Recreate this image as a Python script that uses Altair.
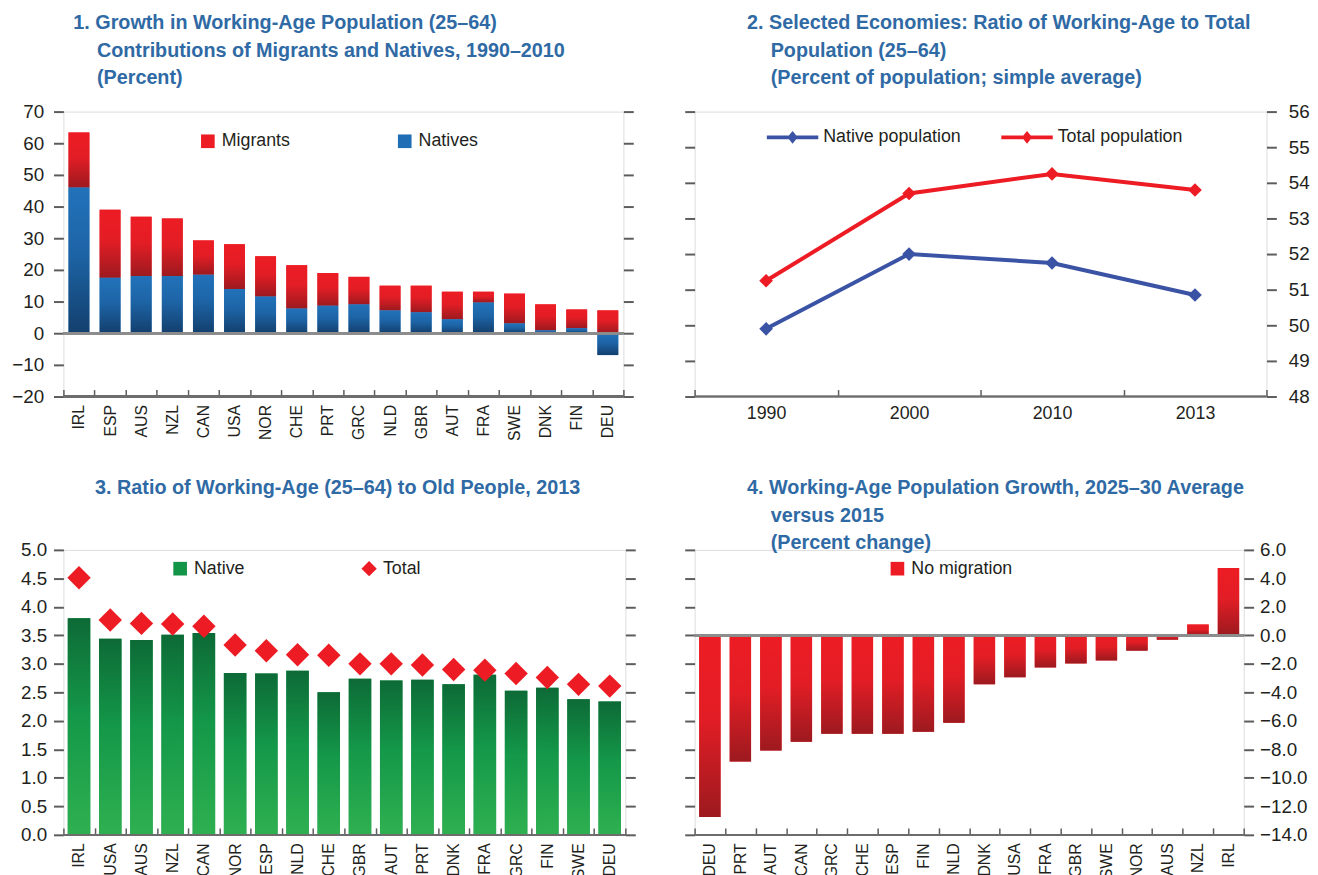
import altair as alt
import pandas as pd

FONT = "'Liberation Sans', Arial, sans-serif"
TITLE_C = "#2F6AA5"
LABEL_C = "#231F20"
TICK_C = "#5c5c5c"
RED = "#ED1C24"
BLUE = "#1F6DB5"
GREEN = "#139548"
LBLUE = "#3A53A4"
IND = "\u200b\u2007\u2007\u200a"

# ---------------- data ----------------
p1_countries = ["IRL", "ESP", "AUS", "NZL", "CAN", "USA", "NOR", "CHE", "PRT",
                "GRC", "NLD", "GBR", "AUT", "FRA", "SWE", "DNK", "FIN", "DEU"]
p1_natives = [46.0, 17.5, 18.1, 18.1, 18.5, 14.0, 11.6, 7.8, 8.7,
              9.1, 7.2, 6.6, 4.4, 9.7, 3.1, 0.9, 1.6, -6.9]
p1_migrants = [17.4, 21.5, 18.7, 18.1, 10.8, 14.1, 12.7, 13.7, 10.3,
               8.7, 7.8, 8.4, 8.7, 3.4, 9.4, 8.2, 5.9, 7.2]

p2_years = ["1990", "2000", "2010", "2013"]
p2_native = [49.9, 52.0, 51.75, 50.85]
p2_total = [51.25, 53.7, 54.25, 53.8]

p3_countries = ["IRL", "USA", "AUS", "NZL", "CAN", "NOR", "ESP", "NLD", "CHE",
                "GBR", "AUT", "PRT", "DNK", "FRA", "GRC", "FIN", "SWE", "DEU"]
p3_native = [3.80, 3.44, 3.42, 3.51, 3.54, 2.84, 2.83, 2.88, 2.50,
             2.74, 2.71, 2.72, 2.64, 2.81, 2.53, 2.58, 2.38, 2.34]
p3_total = [4.51, 3.77, 3.71, 3.70, 3.66, 3.33, 3.23, 3.16, 3.15,
            3.00, 3.00, 2.98, 2.90, 2.89, 2.83, 2.76, 2.64, 2.61]

p4_countries = ["DEU", "PRT", "AUT", "CAN", "GRC", "CHE", "ESP", "FIN", "NLD",
                "DNK", "USA", "FRA", "GBR", "SWE", "NOR", "AUS", "NZL", "IRL"]
p4_values = [-12.75, -8.85, -8.09, -7.46, -6.91, -6.91, -6.91, -6.77, -6.14,
             -3.43, -2.94, -2.25, -1.97, -1.76, -1.07, -0.30, 0.76, 4.73]


# ---------------- helpers ----------------
def grad(stops):
    return alt.LinearGradient(
        gradient="linear", x1=0, x2=0, y1=0, y2=1,
        stops=[alt.GradientStop(color=c, offset=o) for o, c in stops])


RED_GRAD = grad([(0, "#ED1C24"), (0.45, "#E31D25"), (1, "#9C1A1F")])
BLUE_GRAD = grad([(0, "#2272BA"), (0.45, "#1D64A6"), (1, "#133F6D")])
GREEN_GRAD = grad([(0, "#0D6A36"), (0.45, "#149849"), (1, "#2FB050")])


def yaxis(orient, values, labels, fmt=None, pad=10):
    kw = dict(orient=orient, values=values, labels=labels, domain=False, grid=False,
              ticks=True, tickSize=10, tickWidth=2, tickColor=TICK_C,
              labelPadding=pad, labelFontSize=19, labelFont=FONT,
              labelColor=LABEL_C, title=None, labelOverlap=False)
    if fmt:
        kw["format"] = fmt
    return alt.Axis(**kw)


def xaxis(angle=270, fontsize=16):
    kw = dict(orient="bottom", domain=False, ticks=True, tickBand="extent",
              tickSize=7, tickWidth=1.5, tickColor=TICK_C, offset=-7,
              labelAngle=angle, labelPadding=8, labelFontSize=fontsize,
              labelFont=FONT, labelColor=LABEL_C, title=None, labelOverlap=False)
    if angle:
        kw.update(labelAlign="right", labelBaseline="middle")
    else:
        kw.update(labelAlign="center", labelBaseline="top")
    return alt.Axis(**kw)


def legend(x, y, stype, ssize, colpad=20):
    return alt.Legend(orient="none", legendX=x, legendY=y, direction="horizontal",
                      title=None, symbolType=stype, symbolSize=ssize,
                      symbolStrokeWidth=0, symbolOpacity=1,
                      labelFont=FONT, labelFontSize=18, labelColor=LABEL_C,
                      columnPadding=colpad, labelOffset=5, padding=0)


def title(lines, dx, offset):
    return alt.TitleParams(text=lines, anchor="start", frame="group", dx=dx,
                           offset=offset, fontSize=20, font=FONT,
                           fontWeight="bold", color=TITLE_C, lineHeight=27.5)


def rule(v, scale, axis, color, w):
    return alt.Chart().mark_rule(color=color, strokeWidth=w).encode(
        y=alt.YDatum(v, scale=scale, axis=axis))


# ---------------- panel 1 ----------------
df1 = pd.DataFrame({"country": p1_countries, "Natives": p1_natives,
                    "Migrants": p1_migrants})
X1 = alt.X("country:N", sort=p1_countries,
           scale=alt.Scale(paddingInner=0, paddingOuter=0), axis=xaxis())
Y1s = alt.Scale(domain=[-20, 70], nice=False, zero=False)
v1 = list(range(-20, 71, 10))
ax1 = yaxis("left", v1, True)
Y1 = alt.Y("lo:Q", scale=Y1s, axis=ax1)
long1 = alt.Chart(df1).transform_fold(
    ["Migrants", "Natives"], as_=["series", "value"]
).transform_calculate(
    lo="datum.series === 'Natives' ? 0 : max(datum.Natives, 0)",
    hi="datum.series === 'Natives' ? datum.Natives : max(datum.Natives, 0) + datum.value",
)
bw1 = alt.RelativeBandSize(0.67)
solid1 = long1.mark_bar(width=bw1).encode(
    x=X1, y=Y1, y2="hi:Q",
    color=alt.Color("series:N",
                    scale=alt.Scale(domain=["Migrants", "Natives"], range=[RED, BLUE]),
                    legend=legend(137, 21, "square", 190, colpad=106)))
mig1 = long1.transform_filter("datum.series === 'Migrants'").mark_bar(
    width=bw1, color=RED_GRAD).encode(x=X1, y=Y1, y2="hi:Q")
nat1 = long1.transform_filter("datum.series === 'Natives'").mark_bar(
    width=bw1, color=BLUE_GRAD).encode(x=X1, y=Y1, y2="hi:Q")
inner1 = alt.layer(solid1, mig1, nat1,
                   rule(0, Y1s, ax1, "#8c8c8c", 2),
                   rule(-20, Y1s, ax1, "#6d6d6d", 1.5), data=df1)
right1 = long1.mark_bar(opacity=0, width=bw1).encode(
    x=X1, y=alt.Y("lo:Q", scale=Y1s, axis=yaxis("right", v1, False)), y2="hi:Q")
p1 = alt.layer(inner1, right1).resolve_scale(y="independent").properties(
    width=566, height=288,
    title=title(["1. Growth in Working-Age Population (25–64)",
                 IND + "Contributions of Migrants and Natives, 1990–2010",
                 IND + "(Percent)"], 10, 15))

# ---------------- panel 2 ----------------
df2 = pd.DataFrame({"year": p2_years, "Native population": p2_native,
                    "Total population": p2_total})
long2 = alt.Chart(df2).transform_fold(
    ["Native population", "Total population"], as_=["series", "value"])
X2 = alt.X("year:N", sort=p2_years, bandPosition=0.5,
           scale=alt.Scale(type="band", paddingInner=0, paddingOuter=0),
           axis=xaxis(angle=0, fontsize=18))
Y2s = alt.Scale(domain=[48, 56], nice=False, zero=False)
v2 = list(range(48, 57))
ax2 = yaxis("left", v2, False)
Y2 = alt.Y("value:Q", scale=Y2s, axis=ax2)
cs2 = alt.Scale(domain=["Native population", "Total population"], range=[LBLUE, RED])
LINE_DIAMOND = "M-1,-0.075H1V0.075H-1ZM0,-0.25L0.2,0L0,0.25L-0.2,0Z"
line_nat = long2.transform_filter("datum.series === 'Native population'").mark_line(
    strokeWidth=4, color=LBLUE).encode(x=X2, y=Y2)
line_tot = long2.transform_filter("datum.series === 'Total population'").mark_line(
    strokeWidth=4, color=RED).encode(x=X2, y=Y2)
pts2 = long2.mark_point(filled=True, shape="diamond", size=190, opacity=1).encode(
    x=X2, y=Y2,
    color=alt.Color("series:N", scale=cs2,
                    legend=legend(73, 0, LINE_DIAMOND, 2704, colpad=40)))
inner2 = alt.layer(line_nat, line_tot, pts2, rule(48, Y2s, ax2, "#6d6d6d", 1.5), data=df2)
right2 = long2.mark_point(opacity=0).encode(
    x=X2, y=alt.Y("value:Q", scale=Y2s, axis=yaxis("right", v2, True, pad=12)))
p2 = alt.layer(inner2, right2).resolve_scale(y="independent").properties(
    width=578, height=288,
    title=title(["2. Selected Economies: Ratio of Working-Age to Total",
                 IND + "Population (25–64)",
                 IND + "(Percent of population; simple average)"], 53, 15))

# ---------------- panel 3 ----------------
df3 = pd.DataFrame({"country": p3_countries, "native": p3_native, "total": p3_total})
X3 = alt.X("country:N", sort=p3_countries,
           scale=alt.Scale(paddingInner=0, paddingOuter=0), axis=xaxis())
Y3s = alt.Scale(domain=[0, 5], nice=False, zero=False)
v3 = [i / 2 for i in range(11)]
ax3 = yaxis("left", v3, True, ".1f", 7)
bw3 = alt.RelativeBandSize(0.72)
base3 = alt.Chart(df3).transform_calculate(s1="'Native'", s2="'Total'")
solid3 = base3.mark_bar(width=bw3).encode(
    x=X3, y=alt.Y("native:Q", scale=Y3s, axis=ax3),
    color=alt.Color("s1:N", scale=alt.Scale(domain=["Native"], range=[GREEN]),
                    legend=legend(109, 10, "square", 190)))
grad3 = base3.mark_bar(width=bw3, color=GREEN_GRAD).encode(
    x=X3, y=alt.Y("native:Q", scale=Y3s, axis=ax3))
pts3 = base3.mark_point(filled=True, shape="diamond", size=560, opacity=1).encode(
    x=X3, y=alt.Y("total:Q", scale=Y3s, axis=ax3),
    color=alt.Color("s2:N", scale=alt.Scale(domain=["Total"], range=[RED]),
                    legend=legend(300, 10, "diamond", 240)))
inner3 = alt.layer(solid3, grad3, rule(0, Y3s, ax3, "#6d6d6d", 1.5), pts3,
                   data=df3).resolve_scale(color="independent")
right3 = alt.Chart(df3).mark_bar(opacity=0, width=bw3).encode(
    x=X3, y=alt.Y("native:Q", scale=Y3s, axis=yaxis("right", v3, False)))
p3 = alt.layer(inner3, right3).resolve_scale(y="independent").properties(
    width=568, height=288,
    title=title(["3. Ratio of Working-Age (25–64) to Old People, 2013"], 32, 43))

# ---------------- panel 4 ----------------
df4 = pd.DataFrame({"country": p4_countries, "value": p4_values})
X4 = alt.X("country:N", sort=p4_countries,
           scale=alt.Scale(paddingInner=0, paddingOuter=0), axis=xaxis())
Y4s = alt.Scale(domain=[-14, 6], nice=False, zero=False)
v4 = list(range(-14, 7, 2))
ax4 = yaxis("left", v4, False)
Y4 = alt.Y("value:Q", scale=Y4s, axis=ax4)
bw4 = alt.RelativeBandSize(0.7)
base4 = alt.Chart(df4).transform_calculate(s="'No migration'")
solid4 = base4.mark_bar(width=bw4).encode(
    x=X4, y=Y4,
    color=alt.Color("s:N", scale=alt.Scale(domain=["No migration"], range=[RED]),
                    legend=legend(196, 10, "square", 190)))
grad4 = base4.mark_bar(width=bw4, color=RED_GRAD).encode(x=X4, y=Y4)
inner4 = alt.layer(solid4, grad4,
                   rule(0, Y4s, ax4, "#8c8c8c", 2),
                   rule(-14, Y4s, ax4, "#6d6d6d", 1.5), data=df4)
right4 = alt.Chart(df4).mark_bar(opacity=0, width=bw4).encode(
    x=X4, y=alt.Y("value:Q", scale=Y4s, axis=yaxis("right", v4, True, ".1f", 6)))
p4 = alt.layer(inner4, right4).resolve_scale(y="independent").properties(
    width=555, height=288,
    title=title(["4. Working-Age Population Growth, 2025–30 Average",
                 IND + "versus 2015", IND + "(Percent change)"], 53, -12))

IND_RES = dict(color="independent")
top = alt.hconcat(p1, p2, spacing=48).resolve_scale(**IND_RES).resolve_legend(**IND_RES)
bottom = alt.hconcat(p3, p4, spacing=46).resolve_scale(**IND_RES).resolve_legend(**IND_RES)
chart = alt.vconcat(top, bottom, spacing=37).resolve_scale(**IND_RES).resolve_legend(
    **IND_RES).properties(
    padding={"left": 3, "top": 0, "right": 0, "bottom": 0}
).configure_view(stroke="transparent").configure(font=FONT)

chart.save("out.html", embed_options={"renderer": "svg", "actions": False})
